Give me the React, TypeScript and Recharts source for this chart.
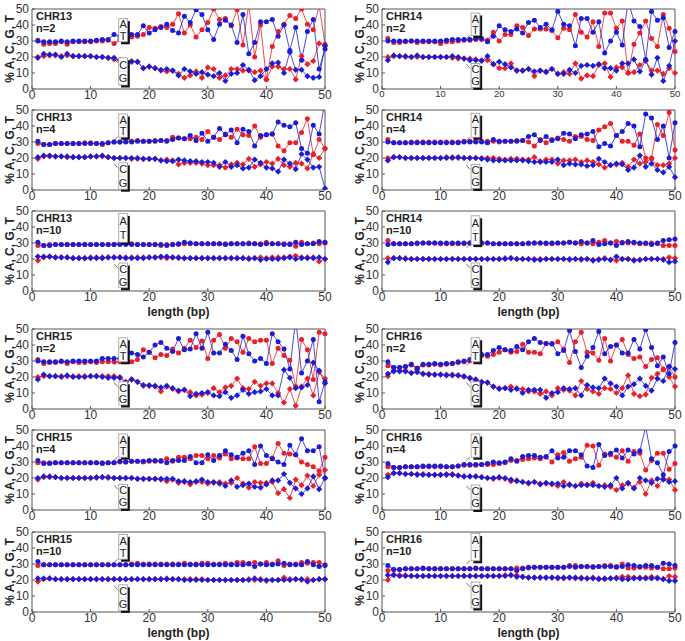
import React from "react";
import { LineChart, Line, XAxis, YAxis, ReferenceArea, ReferenceLine } from "recharts";

const FONT = '"Liberation Sans", Arial, Helvetica, sans-serif';
const RED = "#e8202a";
const BLUE = "#1c1cd6";

// read position along the read (bp)
const bp = [
  1, 2, 3, 4, 5, 6, 7, 8, 9, 10,
  11, 12, 13, 14, 15, 16, 17, 18, 19, 20,
  21, 22, 23, 24, 25, 26, 27, 28, 29, 30,
  31, 32, 33, 34, 35, 36, 37, 38, 39, 40,
  41, 42, 43, 44, 45, 46, 47, 48, 49, 50,
];
const xTicks = [0, 10, 20, 30, 40, 50];
const yTicks = [0, 10, 20, 30, 40, 50];

// A = red circles, T = blue circles, C = red diamonds, G = blue diamonds
const chr13n2A = [
  30.5, 28, 28.5, 28.5, 29.5, 28, 29.5, 29.5, 29.5, 29.5,
  30, 30, 30.5, 28.5, 31, 32, 32.5, 33, 34, 38.5,
  38, 39, 38.5, 40.5, 47, 35, 40, 32.5, 37, 41.5,
  50, 43.5, 44, 39.5, 49.5, 27.5, 53, 20, 40, 6,
  26.5, 36, 40.5, 46, 44, 50, 40.5, 37, 52, 28,
];
const chr13n2T = [
  30, 29.5, 29.5, 29.5, 30, 29.5, 30, 30, 30, 30,
  30.5, 31, 31, 34, 33, 33, 34, 34, 39.5, 35,
  37, 38.5, 40.5, 36.5, 35, 45.5, 41.5, 49.5, 46.5, 37,
  31, 40.5, 43, 40, 29, 46.5, 22, 29, 42, 42,
  43.5, 33, 40, 24, 38.5, 18, 36, 43.5, 12.5, 25,
];
const chr13n2C = [
  20, 20.5, 21, 21, 20.5, 21, 20.5, 20.5, 20.5, 20.5,
  20, 20, 19.5, 18.5, 18, 17.5, 17.5, 17, 13, 14,
  13, 11.5, 11, 11.5, 9.5, 7, 8.5, 11, 7, 13.5,
  12.5, 7, 8.5, 12.5, 12.5, 11.5, 11.5, 10.5, 11.5, 6,
  14, 14, 12.5, 12.5, 6, 20.5, 15.5, 17.5, 28.5, 27,
];
const chr13n2G = [
  19.5, 22, 21.5, 21.5, 20, 22, 20.5, 20.5, 20.5, 20.5,
  20, 20, 19.5, 19.5, 18, 17, 17, 17, 13, 14,
  13, 12, 12.5, 11.5, 8.5, 12.5, 11, 9.5, 10.5, 9,
  8, 10, 5, 9.5, 10, 15, 12, 5.5, 8, 12.5,
  16, 16.5, 10, 23, 12, 12, 8, 7, 7.5, 27,
];

const chr13n4A = [
  29, 28.5, 28.5, 29, 29, 29, 29, 29, 29.5, 29.5,
  29, 28.5, 29.5, 30, 30, 30.5, 30.5, 31, 30.5, 30.5,
  31, 31, 31, 33, 32.5, 32, 32, 33, 31.5, 36.5,
  33, 31.5, 35, 33, 38, 34.5, 34, 40, 33, 34.5,
  35, 27.5, 24.5, 29.5, 29.5, 36, 44.5, 22, 31.5, 26,
];
const chr13n4T = [
  30.5, 28.5, 28.5, 29, 29, 29, 29, 29, 29, 29,
  29, 29, 29.5, 30, 30, 30, 30, 30.5, 30.5, 30.5,
  30.5, 31, 30.5, 31.5, 32.5, 32, 34, 31, 35.5, 30.5,
  33, 38.5, 34.5, 37.5, 29.5, 38, 36.5, 27.5, 34, 34.5,
  35, 42.5, 40.5, 39.5, 42, 26, 23, 40.5, 35, 55,
];
const chr13n4C = [
  19.5, 21, 21, 21, 21, 20.5, 20.5, 20.5, 20.5, 21,
  21, 21, 20.5, 20, 20, 20, 19.5, 19.5, 19.5, 19.5,
  19.5, 18.5, 19, 18.5, 16, 17, 17, 17, 16.5, 15.5,
  15.5, 15.5, 14, 16, 17, 16, 19.5, 14.5, 16, 17.5,
  16.5, 19.5, 15.5, 14.5, 17, 16.5, 13.5, 22.5, 20, 26,
];
const chr13n4G = [
  20.5, 21.5, 21.5, 21, 21, 21, 20.5, 20.5, 20.5, 21,
  21, 21.5, 20.5, 20, 20, 20, 20, 20, 19.5, 19.5,
  19.5, 18.5, 18, 18, 19, 18.5, 18, 18, 17.5, 17.5,
  17, 14.5, 17.5, 14.5, 15.5, 13.5, 14, 19, 17, 14,
  13.5, 11.5, 19, 16.5, 13, 22.5, 19, 14, 14.5, 1,
];

const chr13n10A = [
  28.5, 28.5, 29, 29, 29, 29, 29, 29, 29, 29,
  29, 29, 29, 29, 29.5, 29.5, 29.5, 29, 29, 29,
  29, 28.5, 29, 29, 29, 29.5, 29.5, 29.5, 29.5, 29.5,
  29.5, 29.5, 29.5, 29.5, 29.5, 29.5, 30, 29.5, 29.5, 30.5,
  29.5, 29.5, 29.5, 29.5, 28, 30.5, 29.5, 30, 29.5, 30,
];
const chr13n10T = [
  30.5, 28.5, 28.5, 29, 29, 29, 29, 29, 29, 29,
  29, 29, 29, 29, 29, 29, 29, 29, 29, 29,
  29, 29, 28.5, 29, 29.5, 30.5, 30, 29.5, 29.5, 29.5,
  29.5, 29.5, 29, 29.5, 29.5, 29.5, 29.5, 29.5, 29, 29.5,
  29.5, 29.5, 29, 29, 30.5, 29, 29.5, 29.5, 31, 30.5,
];
const chr13n10C = [
  19, 21, 21.5, 21, 21, 21, 20.5, 20.5, 20.5, 21,
  21, 21, 21, 21, 21, 21, 21, 21, 21, 21,
  21, 21, 20.5, 21, 20.5, 20.5, 20.5, 20.5, 20.5, 20.5,
  20.5, 20.5, 20.5, 20.5, 20.5, 20.5, 20.5, 20.5, 21, 20.5,
  21, 21, 21, 21.5, 22, 21, 21, 21, 18.5, 20,
];
const chr13n10G = [
  21.5, 21.5, 21.5, 21, 21, 21, 20.5, 20.5, 20.5, 20.5,
  20.5, 20.5, 21, 21, 21, 20.5, 20.5, 20.5, 20.5, 21,
  21, 21.5, 21.5, 21, 21, 20.5, 20.5, 20.5, 20.5, 20.5,
  20.5, 20.5, 20.5, 20.5, 20.5, 20.5, 20, 20.5, 19.5, 20,
  20, 20, 20.5, 21, 20, 20.5, 20.5, 20.5, 21, 20,
];

const chr15n2A = [
  31, 28.5, 29, 29, 29.5, 28.5, 29.5, 29, 29, 29.5,
  29, 29.5, 29.5, 29.5, 29.5, 29.5, 29.5, 31, 37, 35.5,
  32, 34, 33.5, 37.5, 35, 38, 43, 38.5, 42.5, 31.5,
  43, 46.5, 38, 44, 42, 35.5, 44, 42, 43, 43,
  28.5, 38, 33.5, 30.5, 14, 43.5, 37, 18.5, 48, 47,
];
const chr15n2T = [
  30, 29.5, 29.5, 29.5, 30, 29.5, 30, 30, 30, 30,
  30, 31.5, 31.5, 31.5, 31.5, 34.5, 35, 34, 32.5, 35.5,
  40, 41.5, 38, 36, 44, 37, 37.5, 47, 38, 48,
  35, 35, 40.5, 36.5, 31, 45.5, 34.5, 30, 31.5, 28.5,
  47, 42, 37.5, 25, 56, 22.5, 30, 43.5, 4.5, 17,
];
const chr15n2C = [
  20, 20.5, 20.5, 20.5, 20.5, 20.5, 20.5, 20.5, 20.5, 20.5,
  20.5, 20.5, 20.5, 20.5, 20, 17, 18.5, 17, 14.5, 15,
  14, 11, 14, 12.5, 11, 12, 10.5, 8.5, 9, 10,
  13, 10.5, 13.5, 14.5, 19, 13, 12.5, 17, 14.5, 16,
  16, 10, 4, 12.5, 2, 14, 19, 8.5, 23, 19,
];
const chr15n2G = [
  18.5, 21.5, 20.5, 20.5, 20, 21, 20, 20, 20, 20.5,
  20.5, 20, 19.5, 19.5, 19.5, 16.5, 18.5, 17, 15, 14.5,
  14.5, 13.5, 14.5, 13, 11.5, 12, 8, 9.5, 10, 10.5,
  8.5, 8, 10.5, 7, 8.5, 12, 9.5, 10.5, 11, 12.5,
  8.5, 8.5, 24.5, 19.5, 13, 13.5, 15, 29, 24, 16,
];

const chr15n4A = [
  29.5, 29.5, 29.5, 29.5, 29.5, 29.5, 29.5, 29.5, 29.5, 29.5,
  29.5, 29.5, 29.5, 29.5, 30, 30, 30.5, 30.5, 30, 30.5,
  30.5, 31, 32, 30.5, 33, 33, 32, 34, 34, 32,
  34, 32.5, 35, 32, 32.5, 32, 32, 39.5, 29, 29,
  32.5, 41.5, 35.5, 35, 34.5, 30, 28.5, 27, 24.5, 33,
];
const chr15n4T = [
  31, 29, 29, 29.5, 29.5, 29.5, 29.5, 29.5, 29.5, 29.5,
  29.5, 29, 29.5, 29.5, 30.5, 30, 30.5, 30.5, 30.5, 31,
  31, 30.5, 29.5, 31, 31, 31, 33.5, 29.5, 29.5, 34.5,
  31, 34, 37, 34.5, 33, 35.5, 37, 28.5, 40, 34,
  32, 30, 28.5, 40.5, 34.5, 44.5, 37, 37, 39.5, 20,
];
const chr15n4C = [
  19, 20.5, 20.5, 20.5, 20, 20, 20, 20, 20, 20,
  20, 20.5, 20, 20, 20, 20, 20, 19.5, 19.5, 19.5,
  19.5, 19, 18, 19, 17, 17.5, 16, 17.5, 17.5, 16.5,
  17, 17.5, 16.5, 17, 20, 16.5, 14, 17.5, 17, 17,
  17.5, 10.5, 13, 7.5, 19, 15.5, 21.5, 15, 22, 25,
];
const chr15n4G = [
  20, 21, 21, 20.5, 20, 20, 20, 20, 20, 20,
  20.5, 20.5, 20.5, 20, 20, 20, 20, 19.5, 19.5, 19.5,
  19.5, 19.5, 19.5, 19.5, 18, 18, 17.5, 18, 19, 17.5,
  17.5, 16.5, 15, 18.5, 14.5, 15.5, 16.5, 14.5, 14, 16,
  18.5, 18.5, 22.5, 17, 13.5, 10, 13.5, 21, 13, 20,
];

const chr15n10A = [
  29, 29.5, 29.5, 29.5, 29.5, 29.5, 29.5, 29.5, 29.5, 29.5,
  29.5, 29.5, 29.5, 29.5, 29.5, 29.5, 30, 30.5, 30, 30,
  30, 30, 30, 30, 30, 30.5, 30, 30, 30.5, 30.5,
  30, 30, 30.5, 30, 31, 31, 30.5, 31, 30, 31,
  30, 32, 29, 30, 30, 31, 30.5, 31, 31, 29.5,
];
const chr15n10T = [
  31.5, 29.5, 29.5, 29.5, 29.5, 29.5, 29.5, 29.5, 29.5, 29.5,
  29.5, 29.5, 29.5, 29.5, 29.5, 29.5, 29.5, 29.5, 29.5, 29.5,
  29.5, 29.5, 29.5, 29.5, 29.5, 29.5, 29.5, 29.5, 29.5, 29.5,
  29.5, 29.5, 29.5, 29.5, 29.5, 29.5, 30, 28.5, 30, 29.5,
  29.5, 30, 30.5, 29.5, 29.5, 29.5, 31.5, 29.5, 28.5, 29,
];
const chr15n10C = [
  19, 20.5, 21, 20.5, 20.5, 20.5, 20.5, 20.5, 20.5, 20.5,
  20.5, 20.5, 20.5, 20.5, 20.5, 20.5, 20.5, 20.5, 20.5, 20.5,
  20.5, 20.5, 21, 20.5, 20.5, 20.5, 20.5, 20.5, 20.5, 20,
  20, 20, 20, 20, 20, 20, 20.5, 20, 20.5, 19.5,
  20, 20, 21.5, 20.5, 20.5, 20, 20.5, 20, 20.5, 20.5,
];
const chr15n10G = [
  21, 21, 21, 20.5, 20.5, 20.5, 20.5, 20.5, 20.5, 20.5,
  20.5, 20.5, 20.5, 20.5, 20.5, 20.5, 20.5, 20.5, 20.5, 20.5,
  20.5, 20.5, 20.5, 20.5, 20.5, 20, 20, 20, 20, 20,
  20, 20, 20, 20, 20, 20, 20, 21, 20, 20,
  20, 20, 20, 20, 20.5, 20.5, 19, 20, 20.5, 20.5,
];

const chr14n2A = [
  31.5, 29, 29, 29.5, 30, 29, 29.5, 29.5, 29.5, 28.5,
  29.5, 29.5, 30, 30.5, 30.5, 31, 31, 30.5, 35.5, 30,
  34, 34, 39.5, 38.5, 33.5, 37.5, 37.5, 37.5, 36.5, 32,
  38, 37, 46.5, 35.5, 32.5, 42, 26.5, 47.5, 47.5, 38,
  42.5, 10, 28, 35, 42.5, 31.5, 26.5, 46.5, 38, 23.5,
];
const chr14n2T = [
  30, 30, 30, 30, 30, 30, 30, 30, 30, 30,
  30.5, 31, 31, 31, 31, 31.5, 31.5, 29.5, 33, 39.5,
  37, 36, 37.5, 35, 41.5, 43, 38.5, 40.5, 37, 48.5,
  40.5, 39.5, 27, 44, 44, 35.5, 42, 22.5, 30, 35.5,
  27.5, 55, 42.5, 39, 18.5, 48.5, 43, 44.5, 26, 36,
];
const chr14n2C = [
  20, 20.5, 20.5, 20, 20, 20, 20, 20, 20, 20,
  20, 19.5, 19, 19, 19, 18.5, 18, 18, 15.5, 13,
  13, 16, 11.5, 11.5, 12.5, 8, 11.5, 11, 12.5, 9.5,
  10.5, 9.5, 16, 6.5, 8.5, 8, 15, 16, 7.5, 13.5,
  13.5, 10, 10.5, 15, 17.5, 11.5, 11.5, 9.5, 13, 10,
];
const chr14n2G = [
  18, 21, 20.5, 20.5, 20, 21, 20, 20, 20, 20,
  20, 20.5, 20, 19, 18, 18, 17.5, 20.5, 15.5, 17,
  15.5, 13.5, 11.5, 11.5, 12.5, 11, 11.5, 10.5, 12.5, 9.5,
  9.5, 12, 10, 14.5, 15, 14.5, 15.5, 13, 13, 11.5,
  16, 16, 18.5, 11, 18, 9, 19.5, 5, 14.5, 30,
];

const chr14n4A = [
  31.5, 29.5, 29.5, 29.5, 30, 30, 30, 30, 30, 30,
  30, 30, 30, 30.5, 30.5, 30.5, 30.5, 30.5, 30.5, 30,
  30.5, 30.5, 31, 31, 30, 27.5, 31.5, 29.5, 31.5, 32.5,
  31.5, 30.5, 33.5, 33.5, 31.5, 31, 37.5, 39.5, 41.5, 34,
  30.5, 30.5, 28, 35, 20, 20, 41, 34, 48.5, 25,
];
const chr14n4T = [
  30, 29.5, 29.5, 29.5, 29.5, 29.5, 29.5, 29.5, 29.5, 29.5,
  29.5, 29.5, 29.5, 30, 30, 30, 30, 29.5, 31.5, 30.5,
  30.5, 30.5, 30.5, 31, 33.5, 34.5, 31, 33.5, 31, 32,
  35.5, 35, 32, 34.5, 35, 36.5, 27, 29, 27.5, 34,
  36.5, 41.5, 40, 27, 47.5, 45, 31.5, 40, 20, 42,
];
const chr14n4C = [
  20, 20.5, 20.5, 20, 20, 20, 20, 20, 20, 20,
  20.5, 20.5, 20, 20, 20, 20, 20, 20, 20, 19.5,
  19, 19.5, 19.5, 19, 19, 20.5, 18, 19, 19, 16.5,
  18.5, 18.5, 19, 17.5, 18.5, 17.5, 16, 14, 15.5, 16,
  17, 14.5, 19, 16.5, 17.5, 19.5, 15.5, 15.5, 16.5, 20,
];
const chr14n4G = [
  18.5, 20.5, 20.5, 20, 20, 20, 20, 20, 20, 20,
  20, 20, 20.5, 20, 20, 20, 19.5, 19, 18.5, 18.5,
  18.5, 18.5, 18.5, 18.5, 18, 17.5, 17.5, 17.5, 17.5, 19,
  15.5, 16.5, 16, 16, 15, 15.5, 19.5, 17.5, 15.5, 16.5,
  16, 12.5, 14, 21.5, 14.5, 16.5, 12.5, 11, 14.5, 8,
];

const chr14n10A = [
  31.5, 29.5, 29.5, 29.5, 29.5, 29.5, 30, 30, 30, 29.5,
  29.5, 29.5, 29.5, 29.5, 30, 30, 30, 30, 29.5, 29.5,
  29.5, 29.5, 29.5, 29.5, 29.5, 30, 30, 29.5, 29.5, 30,
  30, 30.5, 30, 29.5, 30, 29.5, 30.5, 31.5, 30, 31,
  30.5, 30, 30, 29.5, 29.5, 30, 29.5, 28.5, 28.5, 28.5,
];
const chr14n10T = [
  29, 29.5, 29.5, 29.5, 29.5, 30, 30, 30, 30, 30,
  30, 30, 30, 30, 30, 30, 30, 30, 29.5, 29.5,
  29.5, 29.5, 29.5, 29.5, 30, 30, 30, 30, 30, 30,
  30, 30.5, 30, 31, 30, 31.5, 29, 29.5, 30, 28.5,
  30, 31, 30.5, 30, 30, 29, 30, 31.5, 32, 32.5,
];
const chr14n10C = [
  20.5, 20.5, 20.5, 20.5, 20, 20, 20, 20, 20, 20,
  20, 20, 20, 20, 20, 20, 20, 20, 20, 20,
  20.5, 20.5, 20, 20, 20, 20, 20, 20, 20, 20,
  20, 19.5, 20, 19.5, 20, 19.5, 20, 20.5, 19.5, 19,
  20, 20, 19.5, 19.5, 20, 20, 20, 20, 21, 20.5,
];
const chr14n10G = [
  18, 20.5, 20.5, 20, 20, 20, 20, 20, 20, 20,
  20, 20, 20, 20, 20, 20, 20, 20, 20, 20,
  20, 20.5, 20, 20, 20, 19.5, 19.5, 20, 20, 20,
  20, 20, 20, 20, 20, 19, 19.5, 20, 19.5, 21.5,
  20, 20, 19, 19.5, 20, 20, 20, 19.5, 18, 18.5,
];

const chr16n2A = [
  27, 26, 26, 26.5, 27.5, 25.5, 27.5, 27.5, 28, 27.5,
  28, 28.5, 29, 29.5, 30, 31, 33.5, 33, 34, 35.5,
  37, 35.5, 36, 40.5, 35.5, 35.5, 34.5, 41, 40.5, 42,
  37.5, 29, 42, 48, 35.5, 35, 30.5, 44, 30, 40,
  43.5, 34, 31.5, 32.5, 26.5, 31, 32, 24.5, 26.5, 20,
];
const chr16n2T = [
  29.5, 26, 26, 26.5, 28, 25.5, 28, 28, 28.5, 28,
  28.5, 28.5, 29.5, 30, 31, 33, 34, 34, 36.5, 38.5,
  37, 36.5, 39, 37, 42, 44, 41.5, 41, 41, 34.5,
  36.5, 49, 36, 26, 33, 38.5, 48.5, 34.5, 39, 40,
  35, 35, 43.5, 37.5, 49.5, 38.5, 27, 32.5, 22, 41.5,
];
const chr16n2C = [
  20.5, 24, 24, 24, 22.5, 24.5, 22, 22, 21.5, 21.5,
  21.5, 21.5, 21, 20, 19, 17.5, 16.5, 16.5, 14, 13,
  13, 14, 13, 12.5, 11, 11, 9.5, 11, 8.5, 13,
  12, 11.5, 8.5, 17.5, 12.5, 11, 9.5, 13, 12.5, 10,
  13, 21, 9.5, 8, 9, 19.5, 22, 25, 20, 14,
];
const chr16n2G = [
  22, 23.5, 23.5, 23.5, 22.5, 23, 22, 21.5, 21.5, 21.5,
  21, 21, 21, 20.5, 19.5, 18.5, 17, 16.5, 14, 12.5,
  13, 12, 12.5, 10, 12, 12, 12, 7, 10, 10.5,
  13, 12.5, 13, 8.5, 15, 13.5, 13, 19, 16, 14,
  8.5, 14, 15.5, 19, 14.5, 11.5, 19, 17.5, 26.5, 25,
];

const chr16n4A = [
  27, 26.5, 26.5, 27, 27, 27, 27, 27, 27, 27,
  27, 27, 27.5, 28, 28, 28, 28.5, 28.5, 28.5, 29,
  29.5, 31, 31, 31.5, 32, 32.5, 32, 33, 30, 34.5,
  36, 30.5, 32, 33, 40.5, 40, 28, 35, 34.5, 33,
  37, 30.5, 36.5, 35.5, 25, 31, 35.5, 35.5, 25.5, 29,
];
const chr16n4T = [
  29, 26.5, 26.5, 27, 27, 27, 27.5, 27.5, 27.5, 27.5,
  27, 27, 27.5, 28.5, 28.5, 28.5, 28.5, 29, 30, 29.5,
  30, 32, 30.5, 33.5, 34, 34, 33, 33.5, 37, 32.5,
  33, 37, 37, 34.5, 27.5, 26.5, 41, 34, 35.5, 37.5,
  32.5, 37.5, 35, 37, 52, 32, 29.5, 22, 36.5, 40,
];
const chr16n4C = [
  22, 23, 23, 22.5, 22.5, 22.5, 22.5, 22, 22, 22,
  22.5, 22.5, 21.5, 21, 21, 21, 20.5, 20, 19.5, 20,
  19.5, 18, 18.5, 17.5, 16.5, 17.5, 16.5, 16.5, 16, 15,
  17.5, 15.5, 15, 16.5, 16, 17, 15, 15.5, 14.5, 12.5,
  15.5, 16.5, 14, 17.5, 10, 18.5, 15, 19.5, 19, 12.5,
];
const chr16n4G = [
  20.5, 23, 23, 22.5, 22.5, 22, 22, 22, 22, 22,
  22, 22, 21.5, 21, 21, 21, 20.5, 20, 20, 20.5,
  20, 19, 18, 17.5, 17, 17.5, 16, 17, 16.5, 16.5,
  15, 16, 15, 15.5, 15.5, 15.5, 15, 14.5, 15.5, 20,
  13.5, 17, 13.5, 20, 18.5, 17, 19.5, 19, 17.5, 18,
];

const chr16n10A = [
  26, 26.5, 26.5, 27, 27, 27, 27, 27, 27, 27,
  27, 27, 27, 27, 27, 27, 27, 27, 27, 27,
  27, 27, 27.5, 27.5, 27.5, 28, 28, 28, 28, 28,
  28, 29, 29, 28.5, 28.5, 28.5, 28.5, 29, 29, 28.5,
  30, 27.5, 27.5, 28, 28, 27.5, 28, 27, 27, 27.5,
];
const chr16n10T = [
  29, 26.5, 26.5, 27, 27, 27, 27.5, 27, 27, 27,
  27, 27, 27, 27, 27, 27.5, 27, 27, 27, 27,
  27, 27, 26, 27, 28, 28, 28, 28, 28, 28,
  28, 28.5, 28, 28.5, 28.5, 28, 28.5, 28.5, 28.5, 28,
  28.5, 29.5, 29, 28.5, 29, 29, 28, 30.5, 30, 29,
];
const chr16n10C = [
  20, 23.5, 23, 23, 22.5, 22.5, 22.5, 22.5, 22.5, 22.5,
  22.5, 22.5, 22.5, 22.5, 22.5, 22.5, 22.5, 22.5, 22.5, 22.5,
  23, 23, 23, 22, 21.5, 21.5, 21.5, 21.5, 21.5, 21,
  21, 21.5, 21, 21.5, 21, 21.5, 21, 20.5, 21, 21.5,
  22, 22, 21.5, 21.5, 21.5, 22, 21.5, 20.5, 22.5, 22,
];
const chr16n10G = [
  23, 23, 22.5, 22.5, 22.5, 22.5, 22.5, 22.5, 22.5, 22.5,
  22.5, 22.5, 22.5, 22.5, 22.5, 22.5, 22.5, 22.5, 22.5, 22.5,
  22.5, 23, 22, 22, 21.5, 21.5, 21.5, 21.5, 21.5, 21.5,
  21.5, 21.5, 21.5, 21, 21, 21, 20.5, 21, 21, 21,
  20.5, 20.5, 21, 21, 21, 21, 21, 20.5, 19.5, 19.5,
];

type PanelDef = {
  chr: string;
  n: number;
  A: number[];
  T: number[];
  C: number[];
  G: number[];
  at: number[]; // A/T label box, y top / bottom in %
  cg: number[]; // C/G label box
  tickFont?: number;
};

const leftPanels: PanelDef[] = [
  { chr: "CHR13", n: 2, A: chr13n2A, T: chr13n2T, C: chr13n2C, G: chr13n2G, at: [44, 29.5], cg: [19.5, 2.5] },
  { chr: "CHR13", n: 4, A: chr13n4A, T: chr13n4T, C: chr13n4C, G: chr13n4G, at: [47.5, 33], cg: [17, 0.5] },
  { chr: "CHR13", n: 10, A: chr13n10A, T: chr13n10T, C: chr13n10C, G: chr13n10G, at: [48.5, 30.5], cg: [17.5, 2] },
  { chr: "CHR15", n: 2, A: chr15n2A, T: chr15n2T, C: chr15n2C, G: chr15n2G, at: [44.5, 29.5], cg: [17, 2.5] },
  { chr: "CHR15", n: 4, A: chr15n4A, T: chr15n4T, C: chr15n4C, G: chr15n4G, at: [47.5, 33], cg: [16, 1] },
  { chr: "CHR15", n: 10, A: chr15n10A, T: chr15n10T, C: chr15n10C, G: chr15n10G, at: [48.5, 33], cg: [17, 1] },
];
const rightPanels: PanelDef[] = [
  { chr: "CHR14", n: 2, A: chr14n2A, T: chr14n2T, C: chr14n2C, G: chr14n2G, at: [47.5, 33.5], cg: [16, 1], tickFont: 9.5 },
  { chr: "CHR14", n: 4, A: chr14n4A, T: chr14n4T, C: chr14n4C, G: chr14n4G, at: [48, 33], cg: [16, 1] },
  { chr: "CHR14", n: 10, A: chr14n10A, T: chr14n10T, C: chr14n10C, G: chr14n10G, at: [47, 29], cg: [17.5, 2] },
  { chr: "CHR16", n: 2, A: chr16n2A, T: chr16n2T, C: chr16n2C, G: chr16n2G, at: [44.5, 29.5], cg: [17, 2.5] },
  { chr: "CHR16", n: 4, A: chr16n4A, T: chr16n4T, C: chr16n4C, G: chr16n4G, at: [47.5, 33], cg: [15.6, 0.3] },
  { chr: "CHR16", n: 10, A: chr16n10A, T: chr16n10T, C: chr16n10C, G: chr16n10G, at: [49, 32], cg: [18.7, 2.5] },
];

const PLOT_W = 293;
const PLOT_H = 80;
const Y_AX_W = 32;
const TOP_M = 6;
const RIGHT_M = 12;
const X_AX_H = 16;
const rowTops = [9, 110, 211, 329, 430, 532];
const colLefts = [32, 382];
const boxX = [[14.8, 16.3], [15.2, 16.7]];

const circleDot = (color: string) => (props: any) => {
  const { cx, cy, index } = props;
  if (cx == null || cy == null) return <g key={index} />;
  return <circle key={index} cx={cx} cy={cy} r={2.5} fill={color} />;
};

const diamondDot = (color: string) => (props: any) => {
  const { cx, cy, index } = props;
  if (cx == null || cy == null) return <g key={index} />;
  const s = 3.1;
  return (
    <polygon
      key={index}
      points={`${cx},${cy - s} ${cx + s},${cy} ${cx},${cy + s} ${cx - s},${cy}`}
      fill={color}
    />
  );
};

const LabelBox = (letters: string[]) => (props: any) => {
  const { x, y, width, height } = props;
  const h = height / 2;
  return (
    <g>
      <rect x={x + 2.3} y={y + 2.5} width={width} height={height} fill="#111" />
      <rect x={x} y={y} width={width} height={height} fill="#fff" stroke="#9a9a9a" strokeWidth={0.8} />
      <line x1={x} x2={x + width} y1={y + h} y2={y + h} stroke="#d0d0d0" strokeWidth={0.6} />
      <text x={x + width / 2} y={y + h / 2 + 4} textAnchor="middle" fontSize={11} fontFamily={FONT} fill="#222">
        {letters[0]}
      </text>
      <text x={x + width / 2} y={y + h + h / 2 + 4} textAnchor="middle" fontSize={11} fontFamily={FONT} fill="#222">
        {letters[1]}
      </text>
    </g>
  );
};

function Panel({ p, col, row, xLabel }: { p: PanelDef; col: number; row: number; xLabel: boolean }) {
  const data = bp.map((x, i) => ({ x, A: p.A[i], T: p.T[i], C: p.C[i], G: p.G[i] }));
  const left = colLefts[col];
  const top = rowTops[row];
  const [bx1, bx2] = boxX[col];
  const tickStyle = { fontSize: 12, fill: "#333", fontFamily: FONT };
  return (
    <>
      <div style={{ position: "absolute", left: left - Y_AX_W, top: top - TOP_M }}>
        <LineChart
          width={Y_AX_W + PLOT_W + RIGHT_M}
          height={TOP_M + PLOT_H + X_AX_H}
          data={data}
          margin={{ top: TOP_M, right: RIGHT_M, bottom: 0, left: 0 }}
        >
          <XAxis
            dataKey="x"
            type="number"
            domain={[0, 50]}
            ticks={xTicks}
            interval={0}
            height={X_AX_H}
            axisLine={false}
            tickSize={-3}
            tickMargin={4}
            tickLine={{ stroke: "#555" }}
            tick={{ ...tickStyle, fontSize: p.tickFont ?? 12 }}
          />
          <YAxis
            type="number"
            domain={[0, 50]}
            ticks={yTicks}
            interval={0}
            allowDataOverflow
            width={Y_AX_W}
            axisLine={false}
            tickSize={-3}
            tickMargin={6}
            tickLine={{ stroke: "#555" }}
            tick={tickStyle}
          />
          <ReferenceArea x1={0} x2={50} y1={0} y2={50} fill="none" stroke="#555" strokeWidth={1} />
          <Line dataKey="A" stroke={RED} strokeWidth={0.8} dot={circleDot(RED)} activeDot={false} isAnimationActive={false} />
          <Line dataKey="C" stroke={RED} strokeWidth={0.8} dot={diamondDot(RED)} activeDot={false} isAnimationActive={false} />
          <Line dataKey="T" stroke={BLUE} strokeWidth={0.8} dot={circleDot(BLUE)} activeDot={false} isAnimationActive={false} />
          <Line dataKey="G" stroke={BLUE} strokeWidth={0.8} dot={diamondDot(BLUE)} activeDot={false} isAnimationActive={false} />
          <ReferenceLine
            segment={[{ x: bx1 - 0.8, y: p.at[1] - 2 }, { x: bx1 - 0.2, y: p.at[1] }]}
            stroke="#333"
            strokeWidth={0.7}
            zIndex={1500}
          />
          <ReferenceLine
            segment={[{ x: bx1 - 0.8, y: p.cg[0] - 0.5 }, { x: bx1 - 0.2, y: p.cg[0] - 3 }]}
            stroke="#333"
            strokeWidth={0.7}
            zIndex={1500}
          />
          <ReferenceArea x1={bx1} x2={bx2} y1={p.at[1]} y2={p.at[0]} shape={LabelBox(["A", "T"])} zIndex={1500} />
          <ReferenceArea x1={bx1} x2={bx2} y1={p.cg[1]} y2={p.cg[0]} shape={LabelBox(["C", "G"])} zIndex={1500} />
        </LineChart>
      </div>
      <div
        style={{
          position: "absolute",
          left: left + 4,
          top: top + 1,
          fontSize: 11,
          lineHeight: "12px",
          fontWeight: "bold",
          color: "#222",
        }}
      >
        <div>{p.chr}</div>
        <div>n={p.n}</div>
      </div>
      <div
        style={{
          position: "absolute",
          left: left - 22,
          top: top + PLOT_H / 2,
          transform: "translate(-50%, -50%) rotate(-90deg)",
          fontSize: 12,
          fontWeight: "bold",
          whiteSpace: "nowrap",
          color: "#222",
        }}
      >
        % A, C, G, T
      </div>
      {xLabel && (
        <div
          style={{
            position: "absolute",
            left: left + PLOT_W / 2,
            top: top + PLOT_H + 14,
            transform: "translateX(-50%)",
            fontSize: 12,
            lineHeight: "14px",
            fontWeight: "bold",
            whiteSpace: "nowrap",
            color: "#222",
          }}
        >
          length (bp)
        </div>
      )}
    </>
  );
}

export default function App() {
  return (
    <div
      style={{
        position: "absolute",
        left: 0,
        top: 0,
        width: 685,
        height: 641,
        background: "#fff",
        fontFamily: FONT,
        overflow: "hidden",
      }}
    >
      {leftPanels.map((p, i) => (
        <Panel key={"l" + i} p={p} col={0} row={i} xLabel={i === 2 || i === 5} />
      ))}
      {rightPanels.map((p, i) => (
        <Panel key={"r" + i} p={p} col={1} row={i} xLabel={i === 2 || i === 5} />
      ))}
    </div>
  );
}
